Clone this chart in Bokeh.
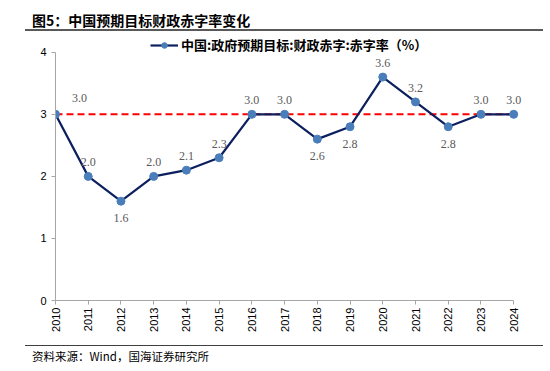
import math
from bokeh.plotting import figure
from bokeh.models import (ColumnDataSource, LabelSet, Legend, LegendItem,
                          Div, FixedTicker)
from bokeh.layouts import column
from bokeh.embed import file_html
from bokeh.resources import INLINE

# ---- data ----
years = [2010, 2011, 2012, 2013, 2014, 2015, 2016, 2017, 2018, 2019, 2020, 2021, 2022, 2023, 2024]
deficit = [3.0, 2.0, 1.6, 2.0, 2.1, 2.3, 3.0, 3.0, 2.6, 2.8, 3.6, 3.2, 2.8, 3.0, 3.0]
reference_level = 3.0
y_ticks = [0, 1, 2, 3, 4]
series_name = "中国:政府预期目标:财政赤字:赤字率（%）"
title_text = "图5：中国预期目标财政赤字率变化"
source_text = "资料来源：Wind，国海证券研究所"

# label placement (style, not data)
placement = ["tr", "above", "below", "above", "above", "above", "above", "above",
             "below", "below", "above", "above", "below", "above", "above"]
offs = {"above": (0, 10), "below": (0, -21), "tr": (24, 12)}
dx = [offs[q][0] for q in placement]
dy = [offs[q][1] for q in placement]

src = ColumnDataSource(dict(x=years, y=deficit,
                            lab=["%.1f" % v for v in deficit], dx=dx, dy=dy))

CJK = "Noto Sans CJK SC"
x0, x1 = years[0], years[-1]

# right padding so the last marker/label are not clipped; x axis limited by bounds
p = figure(width=550, height=310, output_backend="svg", toolbar_location=None,
           x_range=(x0, x1 + 0.3), y_range=(0, 4.27),
           min_border_left=55, min_border_right=27, min_border_top=2, min_border_bottom=43)
p.outline_line_color = None
p.grid.visible = False
p.background_fill_color = "white"
p.border_fill_color = "white"

axis_col = "#a6a6a6"
for ax in (p.xaxis[0], p.yaxis[0]):
    ax.axis_line_color = axis_col
    ax.major_tick_line_color = axis_col
    ax.minor_tick_line_color = None
    ax.major_tick_out = 4
    ax.major_tick_in = 0
    ax.major_label_text_font = "Liberation Sans"
    ax.major_label_text_font_size = "11px"
    ax.major_label_text_color = "black"

p.xaxis.ticker = FixedTicker(ticks=years)
p.xaxis.bounds = (x0, x1)
p.xaxis.major_label_orientation = math.pi / 2
p.xaxis.major_label_standoff = 3
p.yaxis.ticker = FixedTicker(ticks=y_ticks)
p.yaxis.bounds = (0, 4)
p.yaxis.major_label_standoff = 5

ref_src = ColumnDataSource(dict(x=[x0, x1], y=[reference_level, reference_level]))
p.line("x", "y", source=ref_src, line_color="#ff0000", line_width=2, line_dash="7 4")

ln = p.line("x", "y", source=src, line_color="#0c1f5e", line_width=2.2)
mk = p.scatter("x", "y", source=src, size=8, fill_color="#4a7ebb", line_color="#4a7ebb")

labels = LabelSet(x="x", y="y", text="lab", source=src, x_offset="dx", y_offset="dy",
                  text_align="center", text_font="Liberation Serif",
                  text_font_size="12px", text_color="#595959")
p.add_layout(labels)

legend = Legend(items=[LegendItem(label=series_name, renderers=[ln, mk])],
                location=(95, 246), orientation="horizontal",
                padding=0, margin=0, spacing=0, border_line_color=None,
                background_fill_alpha=0, glyph_width=28, glyph_height=14,
                label_height=14, label_standoff=3,
                label_text_font=CJK, label_text_font_size="13px",
                label_text_font_style="bold", label_text_color="black")
p.add_layout(legend, "center")

title = Div(text=('<div style="margin-left:25px;padding-left:7px;height:31px;width:518px;'
                  'border-bottom:2px solid #595959;line-height:40px;font-size:14px;'
                  'font-weight:bold;font-family:\'Noto Sans CJK SC\';color:black;'
                  'white-space:nowrap;">' + title_text + '</div>'),
            width=550, height=33, margin=0)
footer = Div(text=('<div style="margin-left:25px;margin-top:2px;padding-left:7px;width:518px;'
                   'border-top:1px solid #404040;line-height:20px;font-size:11.5px;'
                   'font-family:\'Noto Sans CJK SC\';color:black;white-space:nowrap;">'
                   + source_text + '</div>'),
             width=550, height=28, margin=0)

layout = column(title, p, footer, spacing=0)
open("out.html", "w").write(file_html(layout, INLINE))
